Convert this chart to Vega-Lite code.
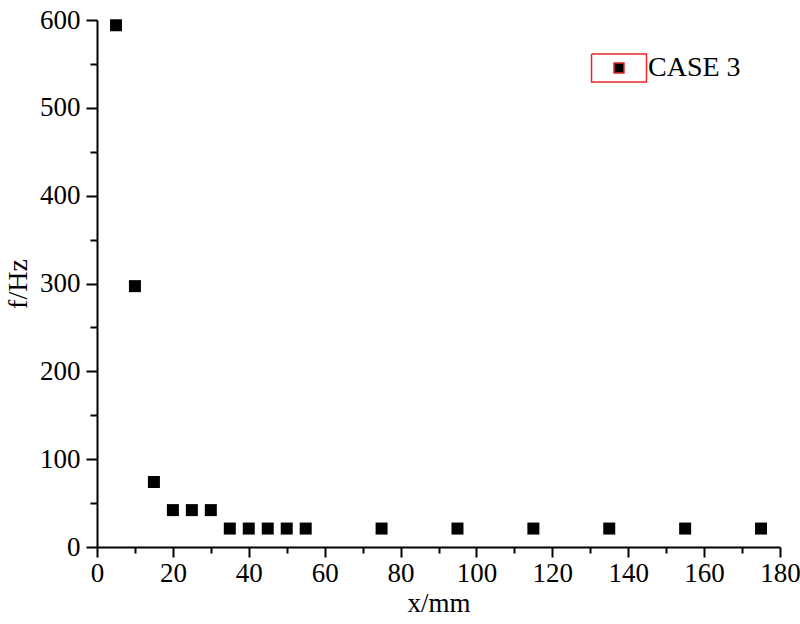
{
  "$schema": "https://vega.github.io/schema/vega-lite/v6.json",
  "width": 683,
  "height": 527,
  "autosize": "none",
  "padding": {"left": 97, "top": 20, "right": 21, "bottom": 77},
  "background": "white",
  "config": {
    "view": {"stroke": null},
    "font": "Liberation Serif"
  },
  "data": {
    "values": [
      {"x": 5, "f": 594, "series": "CASE 3"},
      {"x": 10, "f": 297, "series": "CASE 3"},
      {"x": 15, "f": 74, "series": "CASE 3"},
      {"x": 20, "f": 42, "series": "CASE 3"},
      {"x": 25, "f": 42, "series": "CASE 3"},
      {"x": 30, "f": 42, "series": "CASE 3"},
      {"x": 35, "f": 21, "series": "CASE 3"},
      {"x": 40, "f": 21, "series": "CASE 3"},
      {"x": 45, "f": 21, "series": "CASE 3"},
      {"x": 50, "f": 21, "series": "CASE 3"},
      {"x": 55, "f": 21, "series": "CASE 3"},
      {"x": 75, "f": 21, "series": "CASE 3"},
      {"x": 95, "f": 21, "series": "CASE 3"},
      {"x": 115, "f": 21, "series": "CASE 3"},
      {"x": 135, "f": 21, "series": "CASE 3"},
      {"x": 155, "f": 21, "series": "CASE 3"},
      {"x": 175, "f": 21, "series": "CASE 3"}
    ]
  },
  "mark": {"type": "point", "shape": "square", "filled": true, "size": 144, "opacity": 1, "strokeWidth": 0},
  "encoding": {
    "x": {
      "field": "x",
      "type": "quantitative",
      "scale": {"domain": [0, 180], "nice": false, "zero": false},
      "axis": {
        "title": "x/mm",
        "values": [0, 10, 20, 30, 40, 50, 60, 70, 80, 90, 100, 110, 120, 130, 140, 150, 160, 170, 180],
        "labelExpr": "datum.value % 20 === 0 ? datum.label : ''",
        "grid": false,
        "domainColor": "black",
        "domainWidth": 2,
        "tickColor": "black",
        "tickWidth": 2,
        "tickSize": {"condition": {"test": "datum.value % 20 !== 0", "value": 6}, "value": 10},
        "labelFont": "Liberation Serif",
        "labelFontSize": 27,
        "labelColor": "black",
        "labelPadding": 3,
        "labelFlush": false,
        "labelOverlap": false,
        "titleFont": "Liberation Serif",
        "titleFontSize": 27,
        "titleFontWeight": "normal",
        "titleColor": "black",
        "titlePadding": 4
      }
    },
    "y": {
      "field": "f",
      "type": "quantitative",
      "scale": {"domain": [0, 600], "nice": false},
      "axis": {
        "title": "f/Hz",
        "values": [0, 50, 100, 150, 200, 250, 300, 350, 400, 450, 500, 550, 600],
        "labelExpr": "datum.value % 100 === 0 ? datum.label : ''",
        "grid": false,
        "domainColor": "black",
        "domainWidth": 2,
        "tickColor": "black",
        "tickWidth": 2,
        "tickSize": {"condition": {"test": "datum.value % 100 !== 0", "value": 7}, "value": 11},
        "labelFont": "Liberation Serif",
        "labelFontSize": 27,
        "labelColor": "black",
        "labelPadding": 6,
        "labelFlush": false,
        "labelOverlap": false,
        "titleFont": "Liberation Serif",
        "titleFontSize": 28,
        "titleFontWeight": "normal",
        "titleColor": "black",
        "titlePadding": 7
      }
    },
    "color": {
      "field": "series",
      "type": "nominal",
      "scale": {"range": ["black"]},
      "legend": {
        "title": null,
        "orient": "none",
        "legendX": 508,
        "legendY": 34,
        "padding": 0,
        "symbolType": "M-2.75,-1.4H2.75V1.4H-2.75V-1.4V1.4H2.75V-1.4H-2.75M-0.5,-0.5H0.5V0.5H-0.5Z",
        "symbolSize": 400,
        "symbolFillColor": "black",
        "symbolStrokeColor": "#e8262b",
        "symbolStrokeWidth": 1.5,
        "symbolOpacity": 1,
        "labelOffset": 15,
        "labelFont": "Liberation Serif",
        "labelFontSize": 28,
        "labelColor": "black"
      }
    }
  }
}
